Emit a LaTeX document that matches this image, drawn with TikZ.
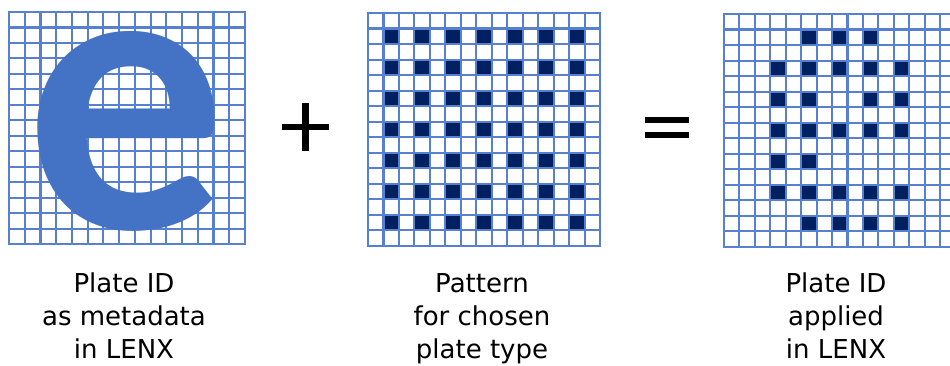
\documentclass[tikz,border=0pt]{standalone}
\usepackage{fontspec}
\setmainfont{DejaVu Sans}
\newfontfamily\glyphfont[BoldFont={* Bold}]{Carlito}
\usepackage{tikz}
\usetikzlibrary{positioning}

\definecolor{gridblue}{RGB}{88,128,208}
\definecolor{letterblue}{RGB}{68,114,196}
\definecolor{dotnavy}{RGB}{0,32,96}

\newcommand{\plategrid}{%
  \foreach \i in {0,...,15} {
    \draw[gridline] (\i,0) -- (\i,15);
    \draw[gridline] (0,\i) -- (15,\i);
  }%
}

\begin{document}
\begin{tikzpicture}[
  x=1pt, y=-1pt,
  gridline/.style={draw=gridblue, line width=2.1pt, line cap=rect},
  dotcell/.style={fill=dotnavy},
  sign/.style={line width=6.5pt, black},
  caption/.style={
    anchor=north, align=center, inner sep=0pt,
    font=\fontsize{26}{33}\selectfont
  },
  bigletter/.style={
    inner sep=0pt, text=letterblue,
    font=\glyphfont\bfseries\fontsize{400}{400}\selectfont
  }
]
\useasboundingbox (0,0) rectangle (950,365);

% ---- Plate ID as metadata ----
\begin{scope}[shift={(9,12)}, x=15.73pt, y=-15.47pt]
  \plategrid
\end{scope}
\node[bigletter] (letter) at (126.5,131) {e};

% ---- Pattern for the plate type ----
\begin{scope}[shift={(368,13)}, x=15.47pt, y=-15.53pt]
  \foreach \c in {2,4,...,14} {
    \foreach \r in {2,4,...,14} {
      \fill[dotcell] (\c-1,\r-1) rectangle (\c,\r);
    }
  }
  \plategrid
\end{scope}

% ---- Plate ID applied ----
\begin{scope}[shift={(724,14)}, x=15.43pt, y=-15.53pt]
  \foreach \c/\r in {6/2, 8/2, 10/2,
                     4/4, 6/4, 8/4, 10/4, 12/4,
                     4/6, 6/6, 10/6, 12/6,
                     4/8, 6/8, 8/8, 10/8, 12/8,
                     4/10, 6/10,
                     4/12, 6/12, 8/12, 10/12, 12/12,
                     6/14, 8/14, 10/14, 12/14} {
    \fill[dotcell] (\c-1,\r-1) rectangle (\c,\r);
  }
  \plategrid
\end{scope}

% ---- Signs ----
\coordinate (plus) at (305.5,127);
\draw[sign] ([xshift=-23.5pt]plus) -- ([xshift=23.5pt]plus);
\draw[sign] ([yshift=-24pt]plus) -- ([yshift=24pt]plus);

\coordinate (equals) at (667,127.5);
\draw[sign] ([shift={(-22pt,-7.5pt)}]equals) -- ([shift={(22pt,-7.5pt)}]equals);
\draw[sign] ([shift={(-22pt,7.5pt)}]equals) -- ([shift={(22pt,7.5pt)}]equals);

% ---- Captions ----
\node[caption] (metadata) at (124,273) {Plate ID\\as metadata\\in LENX};
\node[caption] (pattern)  at (482,273) {Pattern\\for chosen\\plate type};
\node[caption] (applied)  at (836,273) {Plate ID\\applied\\in LENX};

\end{tikzpicture}
\end{document}
